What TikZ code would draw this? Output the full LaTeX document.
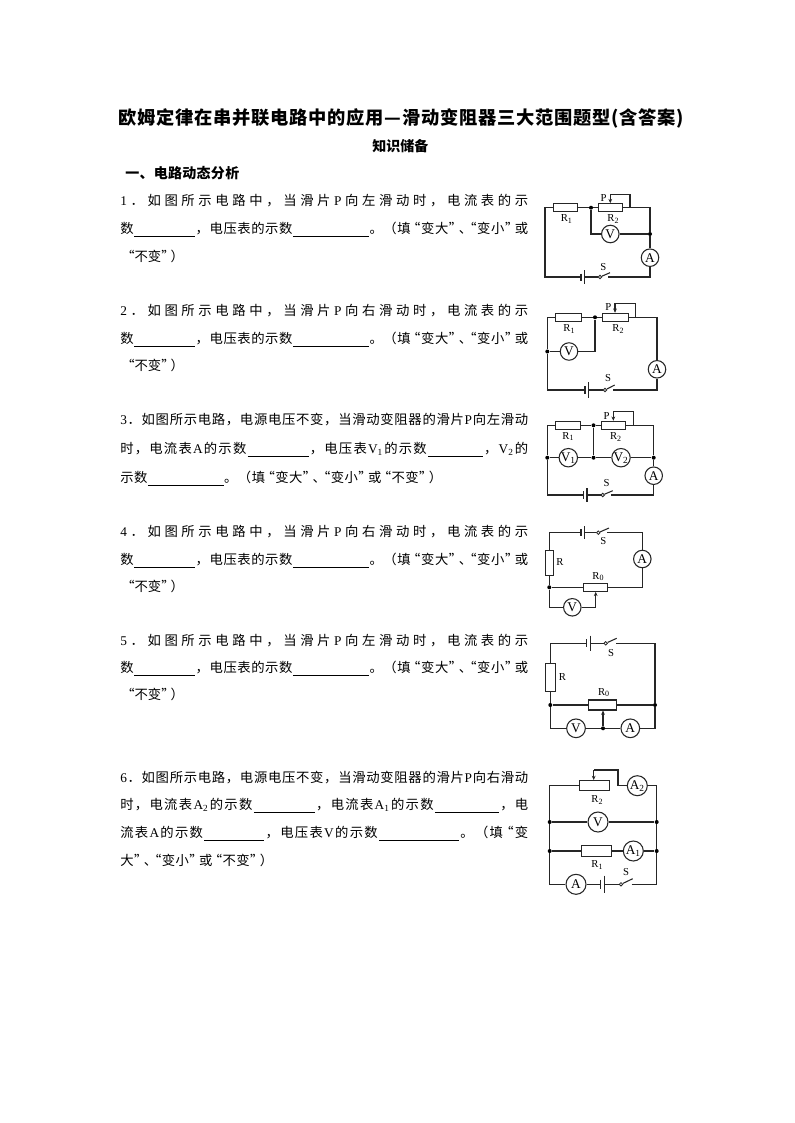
\documentclass[tikz,border=0pt]{standalone}
\usepackage{fontspec}
\setmainfont{Noto Sans CJK SC}
\newfontfamily\lat{Liberation Serif}
\usetikzlibrary{arrows.meta}
\newdimen\pxu \pxu=0.75pt
\def\jl#1{\jlfirst#1\jlend}
\def\jlfirst#1{#1\jlx}
\def\jlendm{\jlend}
\def\jlx#1{\def\jltmp{#1}\ifx\jltmp\jlendm\else\hfill#1\expandafter\jlx\fi}
\newcommand{\bk}[1]{\rule[-2.4pt]{#1\pxu}{0.55pt}}
\newcommand{\La}[1]{{\lat #1}}
\newcommand{\Sb}[2]{{\lat #1\textsubscript{#2}}}
\newcommand{\Lq}{\makebox[0.7em][r]{“}}
\newcommand{\Rq}{\makebox[0.7em][l]{”}}
\newcommand{\Dn}{\makebox[0.6em][l]{、}}
\newcommand{\tline}[5]{\node[tl] (#1) at (#2,#3) {\makebox[#4\pxu][s]{\jl{#5}}};}
\newcommand{\battery}[6]{%
 \coordinate (#1s) at (#2,#4); \coordinate (#1l) at (#3,#4);
 \draw[wire] (#2,#4-#5) -- (#2,#4+#5);
 \draw[wire] (#3,#4-#6) -- (#3,#4+#6);}
\newcommand{\switch}[6]{%
 \node[swc] (#1c) at (#2,#3) {};
 \coordinate (#1e) at (#4,#5);
 \coordinate (#1r) at (#6,#3);
 \draw[wire] (#1c) -- (#1e);}
\tikzset{
 x=0.75pt,y=-0.75pt,
 wire/.style={line width=0.8pt,draw=black!85},
 tl/.style={anchor=west,inner sep=0pt,yshift=-1pt,font=\fontsize{10}{12}\selectfont,text height=8pt,text depth=2pt},
 head/.style={inner sep=0pt,font=\fontsize{10.5}{12}\selectfont\bfseries},
 res/.style 2 args={draw=black!85,line width=0.8pt,fill=white,inner sep=0pt,minimum width=#1*0.75pt,minimum height=#2*0.75pt},
 meter/.style={circle,draw=black!85,line width=0.8pt,fill=white,inner sep=0pt,minimum size=#1*0.75pt,font=\lat\fontsize{10}{10}\selectfont},
 meter/.default=17.5,
 lab/.style={inner sep=0pt,font=\lat\fontsize{8}{8}\selectfont},
 dot/.style={circle,fill=black,inner sep=0pt,minimum size=3pt},
 swc/.style={circle,draw=black!85,line width=0.6pt,fill=white,inner sep=0pt,minimum size=2.6pt},
 slide/.style={wire,-{Stealth[length=3.2pt,width=2.8pt]}}
}
\begin{document}
\begin{tikzpicture}
\useasboundingbox[fill=white] (0,0) rectangle (794,1123);
% ---------- headings
\node[head,font=\fontsize{13.7}{16}\selectfont\bfseries,anchor=west] (title) at (118,118) {\makebox[566\pxu][s]{\jl{欧姆定律在串并联电路中的应用—滑动变阻器三大范围题型(含答案)}}};
\node[head,anchor=west] (sub) at (372,146) {\makebox[56\pxu][s]{\jl{知识储备}}};
\node[head,anchor=west] (sec) at (125,173) {\makebox[114\pxu][s]{\jl{一、电路动态分析}}};
% ---------- question 1
\tline{qa}{120}{200}{408}{{\La1}．如图所示电路中，当滑片{\La P}向左滑动时，电流表的示}
\tline{qb}{120}{228}{408}{数{\bk{61}}，电压表的示数{\bk{76}}。（填\Lq 变大\Rq\Dn\Lq 变小\Rq 或}
\tline{qc}{125}{256}{52}{\Lq 不变\Rq）}
% ---------- question 2
\tline{qd}{120}{310}{408}{{\La2}．如图所示电路中，当滑片{\La P}向右滑动时，电流表的示}
\tline{qe}{120}{338}{408}{数{\bk{61}}，电压表的示数{\bk{76}}。（填\Lq 变大\Rq\Dn\Lq 变小\Rq 或}
\tline{qf}{125}{365}{52}{\Lq 不变\Rq）}
% ---------- question 3
\tline{qg}{120}{419}{408}{{\La3}．如图所示电路，电源电压不变，当滑动变阻器的滑片{\La P}向左滑动}
\tline{qh}{120}{448}{408}{时，电流表{\La A}的示数{\bk{61}}，电压表{\Sb{V}{1}}的示数{\bk{55}}，{\Sb{V}{2}}的}
\tline{qi}{120}{477}{322}{示数{\bk{76}}。（填\Lq 变大\Rq\Dn\Lq 变小\Rq 或\Lq 不变\Rq）}
% ---------- question 4
\tline{qj}{120}{531}{408}{{\La4}．如图所示电路中，当滑片{\La P}向右滑动时，电流表的示}
\tline{qk}{120}{559}{408}{数{\bk{61}}，电压表的示数{\bk{76}}。（填\Lq 变大\Rq\Dn\Lq 变小\Rq 或}
\tline{ql}{125}{586}{52}{\Lq 不变\Rq）}
% ---------- question 5
\tline{qm}{120}{640}{408}{{\La5}．如图所示电路中，当滑片{\La P}向左滑动时，电流表的示}
\tline{qn}{120}{667}{408}{数{\bk{61}}，电压表的示数{\bk{76}}。（填\Lq 变大\Rq\Dn\Lq 变小\Rq 或}
\tline{qo}{125}{694}{52}{\Lq 不变\Rq）}
% ---------- question 6
\tline{qp}{120}{777}{408}{{\La6}．如图所示电路，电源电压不变，当滑动变阻器的滑片{\La P}向右滑动}
\tline{qq}{120}{804}{408}{时，电流表{\Sb{A}{2}}的示数{\bk{61}}，电流表{\Sb{A}{1}}的示数{\bk{64}}，电}
\tline{qr}{120}{832}{408}{流表{\La A}的示数{\bk{60}}，电压表{\La V}的示数{\bk{80}}。（填\Lq 变}
\tline{qs}{120}{860}{153}{大\Rq\Dn\Lq 变小\Rq 或\Lq 不变\Rq）}

% ========== circuit 1
\coordinate (atl) at (545,207.7); \coordinate (abl) at (545,277); \coordinate (abr) at (650,277);
\coordinate (atr) at (650,207.7); \coordinate (asb) at (630,207.7); \coordinate (ast) at (630,194.7);
\coordinate (asl) at (610.3,194.7);
\node[res={24.5}{8}] (aR1) at (565.6,207.7) {};
\node[res={24.5}{8}] (aR2) at (610.3,207.7) {};
\node[dot] (ad1) at (591,207.7) {};
\node[dot] (ad2) at (650,234) {};
\node[meter] (aV) at (610.3,234) {V};
\node[meter] (aA) at (650,257.7) {A};
\coordinate (avl) at (591,234);
\battery{aB}{581}{584.3}{277}{3.5}{6.7}
\switch{aS}{600}{277}{610}{272.7}{608.3}
\draw[wire] (aR1) -- (atl) -- (abl) -- (aBs);
\draw[wire] (aBl) -- (aSc);
\draw[wire] (aSr) -- (abr) -- (aA);
\draw[wire] (aA) -- (ad2) -- (atr) -- (asb) -- (aR2);
\draw[wire] (aR1) -- (ad1) -- (aR2);
\draw[wire] (ad1) -- (avl) -- (aV) -- (ad2);
\draw[wire] (asb) -- (ast) -- (asl);
\draw[slide] (asl) -- (aR2.north);
\node[lab] (aLR1) at (566.7,219) {R\textsubscript{1}};
\node[lab] (aLR2) at (613.3,219) {R\textsubscript{2}};
\node[lab] (aLP) at (603.5,198.5) {P};
\node[lab] (aLS) at (603.3,266.7) {S};

% ========== circuit 2
\coordinate (btl) at (547.3,317.3); \coordinate (bbl) at (547.3,390); \coordinate (bbr) at (657,390);
\coordinate (btr) at (657,317.3); \coordinate (bsb) at (635.7,317.3); \coordinate (bst) at (635.7,303.3);
\coordinate (bsl) at (615,303.3); \coordinate (bvr) at (595,351.5);
\node[res={26}{8}] (bR1) at (568.7,317.3) {};
\node[res={25.6}{8}] (bR2) at (615.5,317.3) {};
\node[dot] (bd1) at (595,317.3) {};
\node[dot] (bd2) at (547.3,351.5) {};
\node[meter] (bV) at (569,351.5) {V};
\node[meter] (bA) at (657,369.3) {A};
\battery{bB}{585}{588.7}{390}{3.7}{7.8}
\switch{bS}{605}{390}{614.7}{385}{613.3}
\draw[wire] (bR1) -- (bd1) -- (bR2);
\draw[wire] (bR1) -- (btl) -- (bd2) -- (bbl) -- (bBs);
\draw[wire] (bBl) -- (bSc);
\draw[wire] (bSr) -- (bbr) -- (bA) -- (btr) -- (bsb) -- (bR2);
\draw[wire] (bd2) -- (bV) -- (bvr) -- (bd1);
\draw[wire] (bsb) -- (bst) -- (bsl);
\draw[slide] (bsl) -- (bR2.north-|bsl);
\node[lab] (bLR1) at (569.3,329.3) {R\textsubscript{1}};
\node[lab] (bLR2) at (618.3,329.3) {R\textsubscript{2}};
\node[lab] (bLP) at (608.3,307.3) {P};
\node[lab] (bLS) at (608,378.3) {S};

% ========== circuit 3
\coordinate (ctl) at (547.3,425.3); \coordinate (cbl) at (547.3,495); \coordinate (cbr) at (653.7,495);
\coordinate (ctr) at (653.7,425.3); \coordinate (csb) at (633.3,425.3); \coordinate (cst) at (633.3,411.3);
\coordinate (csl) at (613.3,411.3);
\node[res={25}{8}] (cR1) at (568.2,425.3) {};
\node[res={24.7}{8}] (cR2) at (613.6,425.3) {};
\node[dot] (cd1) at (593.5,425.3) {};
\node[dot] (cd2) at (547.3,457.7) {};
\node[dot] (cd3) at (593.5,457.7) {};
\node[dot] (cd4) at (653.7,457.7) {};
\node[meter] (cV1) at (568.3,457.7) {V\textsubscript{1}};
\node[meter] (cV2) at (621,457.7) {V\textsubscript{2}};
\node[meter] (cA) at (653.7,475.7) {A};
\battery{cB}{583.3}{587}{495}{3.7}{7}
\switch{cS}{602.7}{495}{612.7}{490.7}{611}
\draw[wire] (cR1) -- (cd1) -- (cR2);
\draw[wire] (cR1) -- (ctl) -- (cd2) -- (cbl) -- (cBs);
\draw[wire] (cBl) -- (cSc);
\draw[wire] (cSr) -- (cbr) -- (cA) -- (cd4) -- (ctr) -- (csb) -- (cR2);
\draw[wire] (cd1) -- (cd3);
\draw[wire] (cd2) -- (cV1) -- (cd3) -- (cV2) -- (cd4);
\draw[wire] (csb) -- (cst) -- (csl);
\draw[slide] (csl) -- (cR2.north-|csl);
\node[lab] (cLR1) at (568.3,436.7) {R\textsubscript{1}};
\node[lab] (cLR2) at (616,436.7) {R\textsubscript{2}};
\node[lab] (cLP) at (606.7,415.7) {P};
\node[lab] (cLS) at (606.7,483.3) {S};

% ========== circuit 4
\coordinate (dtl) at (549.3,532.7); \coordinate (dtr) at (642.3,532.7); \coordinate (dmr) at (642.3,587.3);
\coordinate (dbl) at (549.3,607.3); \coordinate (dbr) at (595.7,607.3);
\node[res={8.4}{25}] (dR) at (549.3,562.8) {};
\node[res={24.7}{8}] (dR0) at (595.4,587.3) {};
\node[dot] (dd1) at (549.3,587.3) {};
\node[meter] (dV) at (572.3,607.3) {V};
\node[meter] (dA) at (642.3,559) {A};
\battery{dB}{581}{584.7}{532.7}{3.7}{6.7}
\switch{dS}{598.3}{532.7}{609}{528}{607.3}
\draw[wire] (dR) -- (dtl) -- (dBs);
\draw[wire] (dBl) -- (dSc);
\draw[wire] (dSr) -- (dtr) -- (dA) -- (dmr) -- (dR0);
\draw[wire] (dR) -- (dd1) -- (dR0);
\draw[wire] (dd1) -- (dbl) -- (dV) -- (dbr);
\draw[slide] (dbr) -- (dR0.south-|dbr);
\node[lab] (dLR) at (560,561.7) {R};
\node[lab] (dLR0) at (598.3,576.7) {R\textsubscript{0}};
\node[lab] (dLS) at (603.3,540.7) {S};

% ========== circuit 5
\coordinate (etl) at (550.3,643.3); \coordinate (etr) at (655,643.3);
\coordinate (ebl) at (550.3,728.3); \coordinate (ebr) at (655,728.3);
\node[res={9.6}{28.4}] (eR) at (550.3,677.5) {};
\node[res={28}{10}] (eR0) at (602.3,705) {};
\node[dot] (ed1) at (550.3,705) {};
\node[dot] (ed2) at (655,705) {};
\node[dot] (ed3) at (603,728.3) {};
\node[meter=18.7] (eV) at (576,728.3) {V};
\node[meter=18.7] (eA) at (630.3,728.3) {A};
\battery{eB}{586.7}{590.3}{643.3}{4}{7.8}
\switch{eS}{605.7}{643.3}{616.7}{638.3}{616}
\draw[wire] (eR) -- (etl) -- (eBs);
\draw[wire] (eBl) -- (eSc);
\draw[wire] (eSr) -- (etr) -- (ed2) -- (ebr) -- (eA) -- (ed3) -- (eV) -- (ebl) -- (ed1) -- (eR);
\draw[wire] (ed1) -- (eR0) -- (ed2);
\draw[slide] (ed3) -- (eR0.south-|ed3);
\node[lab] (eLR) at (562.3,676.7) {R};
\node[lab] (eLR0) at (604,692.7) {R\textsubscript{0}};
\node[lab] (eLS) at (611,652.7) {S};

% ========== circuit 6
\coordinate (ftl) at (549.7,785.7); \coordinate (ftr) at (656.7,785.7);
\coordinate (fbl) at (549.7,884.3); \coordinate (fbr) at (656.7,884.3);
\coordinate (fsl) at (593.7,770); \coordinate (fst) at (618,770); \coordinate (fsb) at (618,785.7);
\node[res={30}{10.3}] (fR2) at (594.3,785.7) {};
\node[res={30.4}{10.6}] (fR1) at (596.5,851) {};
\node[dot] (fd1) at (549.7,822) {};
\node[dot] (fd2) at (656.7,822) {};
\node[dot] (fd3) at (549.7,851) {};
\node[dot] (fd4) at (656.7,851) {};
\node[meter=20] (fA2) at (637.3,785.7) {A\textsubscript{2}};
\node[meter=20] (fV) at (598,822) {V};
\node[meter=20] (fA1) at (633.3,851) {A\textsubscript{1}};
\node[meter=20] (fA) at (576,884.3) {A};
\battery{fB}{600.7}{604.7}{884.3}{4.7}{8.7}
\switch{fS}{621}{884.3}{632.7}{878.7}{631.7}
\draw[wire] (fR2) -- (ftl) -- (fd1) -- (fd3) -- (fbl) -- (fA) -- (fBs);
\draw[wire] (fBl) -- (fSc);
\draw[wire] (fSr) -- (fbr) -- (fd4) -- (fd2) -- (ftr) -- (fA2) -- (fsb) -- (fst) -- (fsl);
\draw[slide] (fsl) -- (fR2.north-|fsl);
\draw[wire] (fd1) -- (fV) -- (fd2);
\draw[wire] (fd3) -- (fR1) -- (fA1) -- (fd4);
\node[lab] (fLR2) at (597.3,800) {R\textsubscript{2}};
\node[lab] (fLR1) at (597.3,865) {R\textsubscript{1}};
\node[lab] (fLS) at (626,871.7) {S};
\end{tikzpicture}
\end{document}
